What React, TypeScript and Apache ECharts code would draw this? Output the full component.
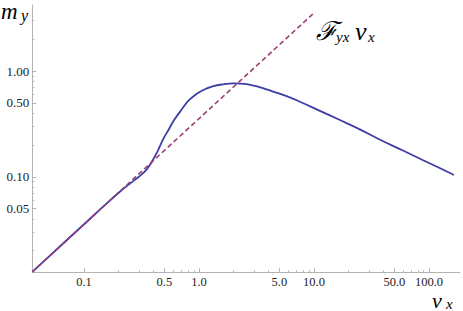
import React, { useEffect, useRef } from "react";
import * as echarts from "echarts";

// x range / y range of the plot (log axes)
const xRange = [0.0355, 186];
const yRange = [0.01247, 4.22];

const xMajorTicks = [0.1, 0.5, 1, 5, 10, 50, 100];
const xMajorLabels = ["0.1", "0.5", "1.0", "5.0", "10.0", "50.0", "100.0"];
const xMinorTicks = [0.2, 0.3, 0.4, 0.6, 0.7, 0.8, 0.9, 2, 3, 4, 6, 7, 8, 9, 20, 30, 40, 60, 70, 80, 90];

const yMajorTicks = [0.05, 0.1, 0.5, 1];
const yMajorLabels = ["0.05", "0.10", "0.50", "1.00"];
const yMinorTicks = [0.02, 0.03, 0.04, 0.06, 0.07, 0.08, 0.09, 0.2, 0.3, 0.4, 0.6, 0.7, 0.8, 0.9, 2, 3];

// m_y (solid curve)
const curveX = [0.0355, 0.06, 0.1, 0.15, 0.2, 0.25, 0.3, 0.35, 0.388, 0.44, 0.486, 0.55, 0.607, 0.67, 0.74, 0.818, 0.92, 1.02, 1.15, 1.33, 1.6, 1.99, 2.6, 3.2, 3.87, 4.7, 5.78, 7.55, 11, 16.8, 25, 37.5, 60, 87, 120, 165];
const curveY = [0.0126, 0.0213, 0.0355, 0.0533, 0.0705, 0.086, 0.1, 0.117, 0.138, 0.178, 0.225, 0.285, 0.344, 0.4, 0.465, 0.53, 0.59, 0.637, 0.68, 0.721, 0.748, 0.765, 0.753, 0.715, 0.671, 0.625, 0.58, 0.513, 0.425, 0.344, 0.281, 0.224, 0.176, 0.145, 0.123, 0.104];

// F_yx v_x (dashed asymptote)
const dashX = [0.0355, 10.2];
const dashY = [0.0126, 3.62];

const SERIF = "'Liberation Serif', 'Times New Roman', Times, serif";
const AXIS_COLOR = "#b3b3b3";

function pick(val: number, ticks: number[], labels: string[]) {
  for (let i = 0; i < ticks.length; i++) {
    if (Math.abs(Math.log10(val) - Math.log10(ticks[i])) < 0.01) return labels[i];
  }
  return "";
}

export default function App() {
  const ref = useRef<HTMLDivElement>(null);
  useEffect(() => {
    document.body.style.margin = "0";
    const chart = echarts.init(ref.current!, null, { renderer: "svg" });
    const baseAxis = (range: number[]) => ({
      type: "log" as const,
      min: range[0],
      max: range[1],
      splitLine: { show: false },
      axisLine: { show: true, lineStyle: { color: AXIS_COLOR, width: 1 } },
    });
    const txt = (text: string, x: number, y: number, size: number, va: string) => ({
      type: "text",
      x,
      y,
      style: { text, fontFamily: SERIF, fontStyle: "italic", fontSize: size, fill: "#000", verticalAlign: va },
    });
    chart.setOption({
      animation: false,
      textStyle: { fontFamily: SERIF },
      grid: { left: 32.3, right: 3, top: 5, bottom: 38.7, containLabel: false },
      xAxis: [
        {
          ...baseAxis(xRange),
          position: "bottom",
          axisTick: { show: true, inside: true, length: 4, customValues: xMajorTicks, lineStyle: { color: AXIS_COLOR } },
          axisLabel: {
            show: true,
            customValues: xMajorTicks,
            formatter: (v: number) => pick(v, xMajorTicks, xMajorLabels),
            fontFamily: SERIF,
            fontSize: 12.5,
            color: "#222",
            margin: 3,
          },
        },
        {
          ...baseAxis(xRange),
          position: "bottom",
          axisLine: { show: false },
          axisTick: { show: true, inside: true, length: 2, customValues: xMinorTicks, lineStyle: { color: AXIS_COLOR } },
          axisLabel: { show: false },
        },
      ],
      yAxis: [
        {
          ...baseAxis(yRange),
          position: "left",
          axisTick: { show: true, inside: true, length: 4, customValues: yMajorTicks, lineStyle: { color: AXIS_COLOR } },
          axisLabel: {
            show: true,
            customValues: yMajorTicks,
            formatter: (v: number) => pick(v, yMajorTicks, yMajorLabels),
            fontFamily: SERIF,
            fontSize: 13,
            color: "#222",
            margin: 3,
          },
        },
        {
          ...baseAxis(yRange),
          position: "left",
          axisLine: { show: false },
          axisTick: { show: true, inside: true, length: 2, customValues: yMinorTicks, lineStyle: { color: AXIS_COLOR } },
          axisLabel: { show: false },
        },
      ],
      series: [
        {
          type: "line",
          xAxisIndex: 0,
          yAxisIndex: 0,
          data: curveX.map((x, i) => [x, curveY[i]]),
          showSymbol: false,
          smooth: 0.4,
          lineStyle: { color: "#3d3da6", width: 1.8 },
        },
        {
          type: "line",
          xAxisIndex: 0,
          yAxisIndex: 0,
          data: dashX.map((x, i) => [x, dashY[i]]),
          showSymbol: false,
          lineStyle: { color: "#9c3d75", width: 1.6, type: [5, 3] },
        },
      ],
      graphic: [
        txt("m", 1, 0, 23, "top"),
        txt("y", 21, 7, 16, "top"),
        txt("ℱ", 316, 31, 26, "middle"),
        txt("yx", 336, 37, 15, "middle"),
        txt("v", 355, 31, 26, "middle"),
        txt("x", 368, 37, 15, "middle"),
        txt("v", 432, 311, 22, "bottom"),
        txt("x", 446, 311, 15, "bottom"),
      ],
    });
    return () => chart.dispose();
  }, []);
  return <div ref={ref} style={{ width: 463, height: 311 }} />;
}
